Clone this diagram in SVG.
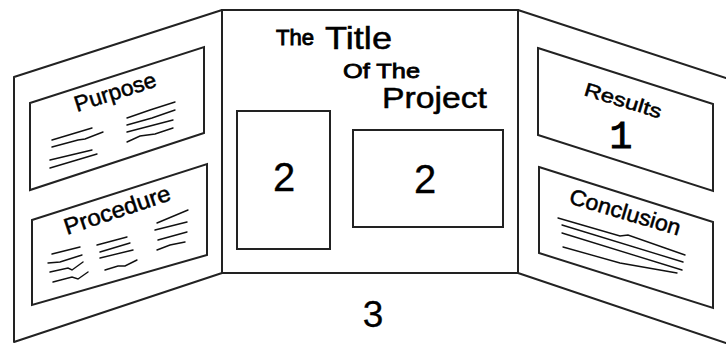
<svg xmlns="http://www.w3.org/2000/svg" width="726" height="345" viewBox="0 0 726 345">
<style>
.panel{fill:#fff;stroke:#222;stroke-width:2;stroke-linejoin:round}
.box{fill:#fff;stroke:#222;stroke-width:2}
.scrib{fill:none;stroke:#111;stroke-width:1.4;stroke-linecap:round}
text{font-family:"Liberation Sans",Arial,sans-serif;fill:#000;stroke:#000;stroke-width:0.5}
.lbl{font-size:22px}
.num{font-size:40px;text-anchor:middle;stroke-width:0.3}
</style>
<rect width="726" height="345" fill="#fff"/>
<g id="left-panel">
<polygon class="panel" points="14,77 222,10 222,273 14,342"/>
<g id="purpose">
<polygon class="box" points="30,103 204,47 204,133 30,190"/>
<text class="lbl" transform="translate(77,112) rotate(-17.8)" textLength="85" lengthAdjust="spacingAndGlyphs">Purpose</text>
<path class="scrib" d="M52,140 L72,134 L92,128 M52,147 L78,140 L85,139 L103,132 M50,160 L92,150 M50,168 L97,154 M127,118 L150,110 L175,102 M127,125 L152,118 L175,110 M127,132 L150,126 L173,120 M127,142 L140,136 L155,134 L173,128"/>
</g>
<g id="procedure">
<polygon class="box" points="32,220 207,164 207,255 32,305"/>
<text class="lbl" style="font-size:23px" transform="translate(67,235) rotate(-18.5)" textLength="111" lengthAdjust="spacingAndGlyphs">Procedure</text>
<path class="scrib" d="M52,254 L80,247 M48,263 L60,262 L82,255 M50,272 L68,268 L72,270 L83,262 M53,282 L72,277 L78,279 L88,272 M97,245 L127,237 M100,252 L130,243 M100,258 L133,250 M105,270 L118,266 L125,266 L137,260 M157,223 L188,210 M155,230 L187,222 M158,240 L187,232 M157,250 L170,245 L185,242"/>
</g>
</g>
<g id="center-panel">
<rect class="panel" x="222" y="10" width="296" height="263"/>
<text x="276" y="45" style="font-size:22px;stroke-width:0.9" textLength="38" lengthAdjust="spacingAndGlyphs">The</text>
<text x="325" y="49" style="font-size:32px" textLength="67" lengthAdjust="spacingAndGlyphs">Title</text>
<text x="343" y="78" style="font-size:21px;stroke-width:0.8" textLength="77" lengthAdjust="spacingAndGlyphs">Of The</text>
<text x="382" y="108" style="font-size:29px" textLength="105" lengthAdjust="spacingAndGlyphs">Project</text>
<g id="box-2a">
<rect class="box" x="237" y="111" width="93" height="138"/>
<text class="num" x="284" y="191">2</text>
</g>
<g id="box-2b">
<rect class="box" x="353" y="130" width="150" height="97"/>
<text class="num" x="425" y="193">2</text>
</g>
<text class="num" x="373" y="327" style="font-size:37px">3</text>
</g>
<g id="right-panel">
<polygon class="panel" points="726,78 518,10 518,273 726,343 728,343 728,78"/>
<g id="results">
<polygon class="box" points="538,48 713,104 713,191 538,135"/>
<text transform="translate(583,95) rotate(17)" style="font-size:19px" textLength="80" lengthAdjust="spacingAndGlyphs">Results</text>
<text x="621" y="148" style="font-family:'Liberation Mono',monospace;font-size:38px;text-anchor:middle;stroke-width:1">1</text>
</g>
<g id="conclusion">
<polygon class="box" points="539,167 713,222 713,308 539,253"/>
<text class="lbl" transform="translate(568,203) rotate(16.5)" textLength="115" lengthAdjust="spacingAndGlyphs">Conclusion</text>
<path class="scrib" d="M558,218 L620,236 L628,235 L685,255 M562,225 L683,262 M562,233 L682,270 M563,247 L620,263 L677,273"/>
</g>
</g>
</svg>
